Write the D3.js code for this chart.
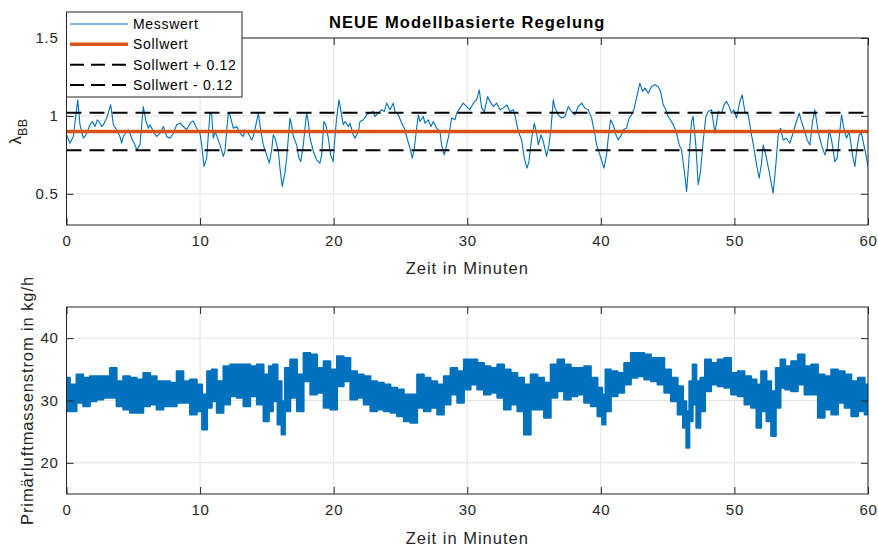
<!DOCTYPE html>
<html>
<head>
<meta charset="utf-8">
<script src="https://cdn.jsdelivr.net/npm/d3@7"></script>
<style>
  body { margin: 0; background: #fff; }
  svg { display: block; }
  text { font-family: "Liberation Sans", Arial, Helvetica, sans-serif; fill: #262626; }
</style>
</head>
<body>
<svg id="chart" width="878" height="548"></svg>
<script>
// ---- data ----
const timeTicks = [0, 10, 20, 30, 40, 50, 60];
const lambdaTicks = [0.5, 1, 1.5];
const flowTicks = [20, 30, 40];

const setpoint = 0.9;
const tolerance = 0.12;

// measured air ratio (lambda BB) over time in minutes
const lambdaTime = [
  0.00,0.26,0.51,0.84,1.01,1.26,1.38,1.51,1.76,1.93,2.13,2.31,2.51,2.63,2.76,3.01,3.31,3.51,3.75,4.00,
  4.13,4.25,4.50,4.63,4.75,4.88,5.13,5.25,5.50,5.75,5.95,6.13,6.25,6.50,6.75,7.00,7.25,7.50,7.75,8.00,
  8.25,8.50,8.75,9.00,9.24,9.49,9.74,9.99,10.12,10.29,10.49,10.74,10.87,10.99,11.12,11.36,11.49,11.74,11.86,12.11,
  12.24,12.36,12.49,12.74,12.99,13.24,13.36,13.61,13.86,13.98,14.23,14.36,14.48,14.73,14.98,15.18,15.36,15.48,15.61,15.86,
  15.98,16.15,16.35,16.48,16.73,16.85,16.98,17.23,17.40,17.53,17.73,17.85,17.98,18.10,18.23,18.48,18.72,18.97,19.10,19.27,
  19.42,19.60,19.77,19.97,20.05,20.22,20.40,20.55,20.72,20.85,21.10,21.22,21.47,21.60,21.85,21.97,22.22,22.47,22.72,22.97,
  23.09,23.34,23.59,23.79,23.97,24.22,24.46,24.59,24.84,25.04,25.29,25.46,25.71,25.89,26.04,26.21,26.34,26.46,26.71,26.84,
  27.08,27.28,27.46,27.71,27.96,28.08,28.28,28.46,28.63,28.83,29.08,29.21,29.45,29.70,29.95,30.20,30.45,30.70,30.90,31.08,
  31.28,31.53,31.70,31.95,32.20,32.45,32.70,32.95,33.20,33.45,33.62,33.82,34.07,34.27,34.47,34.62,34.82,35.02,35.19,35.32,
  35.52,35.69,35.94,36.12,36.27,36.44,36.57,36.82,37.06,37.31,37.56,37.81,38.06,38.31,38.56,38.81,39.06,39.31,39.56,39.68,
  39.93,40.23,40.43,40.55,40.73,40.93,41.13,41.30,41.55,41.68,41.92,42.12,42.30,42.47,42.67,42.92,43.12,43.30,43.55,43.80,
  44.05,44.29,44.47,44.67,44.87,45.04,45.29,45.54,45.67,45.87,46.04,46.22,46.42,46.57,46.79,46.91,47.11,47.29,47.46,47.66,
  47.86,48.04,48.29,48.54,48.79,49.04,49.23,49.41,49.61,49.78,49.96,50.16,50.41,50.58,50.78,51.03,51.28,51.46,51.66,51.85,
  52.03,52.15,52.35,52.60,52.78,52.90,53.10,53.28,53.45,53.65,53.90,54.15,54.35,54.60,54.85,55.02,55.27,55.45,55.65,55.85,
  56.02,56.27,56.52,56.77,56.94,57.09,57.27,57.52,57.69,57.89,58.02,58.19,58.39,58.59,58.84,59.02,59.14,59.34,59.51,59.69,
  59.89,60.00
];
const lambdaValues = [
  0.879,0.825,0.868,1.103,0.943,0.857,0.868,0.889,0.943,0.964,0.932,0.975,0.953,0.932,0.943,0.986,1.071,0.943,0.911,0.868,
  0.825,0.868,0.900,0.911,0.889,0.857,0.814,0.782,0.814,1.060,0.964,0.921,0.943,0.900,0.868,0.889,0.932,0.868,0.857,0.889,
  0.943,0.953,0.932,0.911,0.953,0.968,0.921,0.889,0.814,0.675,0.729,1.018,1.007,0.857,0.900,0.846,0.814,0.740,0.772,1.018,
  1.007,0.964,0.921,0.932,0.889,0.868,0.911,0.889,0.846,0.868,0.964,1.018,0.943,0.814,0.750,0.697,0.782,0.879,0.857,0.772,
  0.665,0.547,0.633,0.729,0.986,0.943,0.868,0.814,0.729,0.707,0.814,0.921,1.018,0.964,0.857,0.772,0.718,0.697,0.750,0.964,
  0.943,0.857,0.750,0.707,0.814,0.986,1.103,1.028,0.943,0.964,0.932,0.953,0.879,0.857,0.900,0.964,0.975,1.007,1.018,1.028,
  0.996,1.018,1.039,1.028,1.082,1.039,1.082,1.028,1.007,0.964,0.921,0.868,0.793,0.729,0.793,0.921,1.007,0.964,0.996,0.953,
  0.975,0.932,0.964,0.921,0.900,0.814,0.750,0.814,0.879,0.986,0.975,1.018,1.050,1.082,1.060,1.039,1.082,1.103,1.167,1.050,
  1.028,1.125,1.093,1.060,1.082,1.039,1.050,1.071,1.028,1.039,0.986,0.900,0.846,0.729,0.665,0.707,0.857,0.953,0.889,0.814,
  0.879,0.836,0.740,0.814,0.921,1.103,1.050,1.007,0.986,0.996,1.060,1.028,1.007,1.060,1.082,1.050,1.039,0.986,0.879,0.814,
  0.750,0.665,0.750,0.857,0.975,0.943,0.879,0.846,0.879,0.911,0.921,0.986,1.007,1.039,1.114,1.210,1.157,1.178,1.146,1.189,
  1.200,1.189,1.157,1.071,1.039,0.996,0.964,0.921,0.889,0.814,0.782,0.665,0.515,0.686,0.964,0.996,0.814,0.558,0.643,0.836,
  0.996,1.028,1.039,0.889,1.028,1.018,1.071,1.093,1.060,1.018,1.039,0.986,1.093,1.135,1.028,1.007,0.879,0.793,0.686,0.600,
  0.697,0.814,0.750,0.643,0.558,0.504,0.686,0.879,0.921,0.846,0.857,0.825,0.879,0.953,1.018,0.964,0.900,0.846,0.814,0.964,
  1.039,0.900,0.814,0.750,0.793,0.911,0.846,0.707,0.729,0.900,1.007,0.921,0.857,0.900,0.750,0.675,0.772,0.879,0.889,0.814,
  0.729,0.675
];

// primary air mass flow in kg/h: upper and lower extent of the noisy signal
const flowTime = [
  0,0.5,1,1.5,2,2.5,3,3.5,4,4.5,5,5.5,6,6.5,7,7.5,8,8.5,9,9.5,
  10,10.3,10.75,11,11.5,12,12.5,13,13.5,14,14.5,15,15.3,15.6,16,16.2,16.5,17,17.5,18,
  18.5,19,19.5,20,20.5,21,21.5,22,22.5,23,23.5,24,24.5,25,25.5,26,26.5,27,27.5,28,
  28.5,29,29.5,30,30.5,31,31.5,32,32.5,33,33.5,34,34.5,35,35.5,36,36.5,37,37.5,38,
  38.5,39,39.5,40,40.2,40.5,41,41.5,42,42.5,43,43.5,44,44.5,45,45.5,46,46.3,46.5,46.75,
  47,47.3,47.6,48,48.5,49,49.5,50,50.5,51,51.5,51.8,52.2,52.6,52.9,53.3,53.6,54,54.5,55,
  55.5,56,56.5,57,57.5,58,58.5,59,59.5,60
];
const flowHigh = [
  33.63,32.56,34.16,33.63,33.89,33.89,33.89,35.23,33.09,33.89,33.63,33.36,34.43,33.89,33.09,33.09,32.83,34.69,33.09,33.36,
  32.56,30.96,34.69,34.96,33.09,35.49,35.76,35.76,35.76,35.49,35.76,34.16,35.49,35.76,33.09,29.89,35.23,36.56,34.16,37.63,
  37.36,35.23,36.29,34.96,37.09,36.83,34.69,34.16,33.89,33.09,32.83,32.56,32.03,31.76,30.96,30.96,34.16,33.63,33.09,32.56,
  33.89,35.23,34.69,36.56,36.56,36.03,35.49,35.23,35.76,34.96,34.43,33.63,32.56,34.16,33.63,32.83,35.76,36.56,35.76,35.23,
  35.23,35.49,33.63,32.03,30.96,34.96,34.69,34.43,36.03,37.63,37.63,37.36,36.83,36.83,34.96,33.63,32.29,29.89,28.29,33.09,
  35.76,33.09,33.63,36.56,36.03,36.56,36.83,34.43,34.69,33.89,33.36,32.56,34.69,33.09,31.49,35.23,36.56,35.49,36.29,37.36,
  35.49,35.76,34.16,33.89,34.96,34.69,34.16,33.09,33.63,32.56
];
const flowLow = [
  28.29,28.29,29.63,29.09,29.89,30.16,30.43,30.43,29.09,28.56,28.03,28.03,29.09,29.36,28.56,29.09,29.09,29.63,29.63,27.76,
  28.29,25.36,28.83,29.89,28.03,29.36,30.69,30.43,29.09,30.69,29.36,26.69,28.29,29.89,26.16,24.56,28.29,30.43,28.29,33.09,
  30.96,31.23,28.83,28.56,32.29,33.09,30.16,30.43,29.36,28.29,28.56,28.29,28.03,27.49,26.69,26.43,28.83,28.29,28.83,27.76,
  29.36,30.96,29.63,31.76,32.56,31.76,30.96,31.23,30.43,28.56,29.36,28.29,24.56,28.56,28.56,27.23,30.43,31.49,30.16,30.69,
  30.96,29.63,29.09,27.49,26.16,28.29,30.69,31.23,32.56,33.63,33.89,33.36,33.09,32.56,31.23,29.89,27.76,25.63,22.43,26.69,
  29.36,25.63,28.29,31.49,32.56,32.29,32.03,30.96,30.69,29.36,28.83,25.63,28.29,26.69,24.29,28.83,32.03,31.76,31.49,32.56,
  30.96,30.96,27.23,28.56,27.76,29.63,28.83,27.49,28.29,27.76
];

// ---- layout ----
const svg = d3.select("#chart");
const left = 66.5, right = 868;
const topPanel = { top: 38, bottom: 225 };
const botPanel = { top: 307, bottom: 494 };
const blue = "#0072BD", orange = "#D95319", axisColor = "#262626", gridColor = "#e2e2e2";

const x = d3.scaleLinear().domain([0, 60]).range([left, right]);
const yLambda = d3.scaleLinear().domain([0.3, 1.5]).range([topPanel.bottom, topPanel.top]);
const yFlow = d3.scaleLinear().domain([15, 45]).range([botPanel.bottom, botPanel.top]);
const plainNumber = d => String(d);

function panel(id, y, yTicks, panelBox) {
  const g = svg.append("g");
  // grid
  g.append("g").selectAll("line").data(timeTicks).join("line")
    .attr("x1", d => x(d)).attr("x2", d => x(d))
    .attr("y1", panelBox.top).attr("y2", panelBox.bottom)
    .attr("stroke", gridColor).attr("stroke-width", 1);
  g.append("g").selectAll("line").data(yTicks).join("line")
    .attr("x1", left).attr("x2", right)
    .attr("y1", d => y(d)).attr("y2", d => y(d))
    .attr("stroke", gridColor).attr("stroke-width", 1);
  // clip for data
  svg.append("clipPath").attr("id", id)
    .append("rect").attr("x", left).attr("y", panelBox.top)
    .attr("width", right - left).attr("height", panelBox.bottom - panelBox.top);
  const data = svg.append("g").attr("clip-path", `url(#${id})`);
  return { g, data };
}

function frame(y, yTicks, panelBox) {
  const g = svg.append("g");
  const styleAxis = sel => {
    sel.select(".domain").remove();
    sel.selectAll(".tick line").attr("stroke", axisColor).attr("stroke-width", 1);
    sel.selectAll(".tick text").attr("fill", axisColor)
      .style("font-size", "15px").style("letter-spacing", "0.7px");
  };
  g.append("g").attr("transform", `translate(0,${panelBox.bottom})`)
    .call(d3.axisBottom(x).tickValues(timeTicks).tickSize(-7).tickPadding(10).tickFormat(plainNumber))
    .call(styleAxis);
  g.append("g").attr("transform", `translate(0,${panelBox.top})`)
    .call(d3.axisTop(x).tickValues(timeTicks).tickSize(-7).tickFormat(""))
    .call(styleAxis);
  g.append("g").attr("transform", `translate(${left},0)`)
    .call(d3.axisLeft(y).tickValues(yTicks).tickSize(-7).tickPadding(8).tickFormat(plainNumber))
    .call(styleAxis);
  g.append("g").attr("transform", `translate(${right},0)`)
    .call(d3.axisRight(y).tickValues(yTicks).tickSize(-7).tickFormat(""))
    .call(styleAxis);
  g.append("rect").attr("x", left).attr("y", panelBox.top)
    .attr("width", right - left).attr("height", panelBox.bottom - panelBox.top)
    .attr("fill", "none").attr("stroke", axisColor).attr("stroke-width", 1);
  return g;
}

// ---- top panel: lambda ----
const p1 = panel("clipTop", yLambda, lambdaTicks, topPanel);
const lambdaPts = lambdaTime.map((t, i) => [t, lambdaValues[i]]);
const lineL = d3.line().x(d => x(d[0])).y(d => yLambda(d[1]));
p1.data.append("path").datum(lambdaPts).attr("d", lineL)
  .attr("fill", "none").attr("stroke", blue).attr("stroke-width", 1.1).attr("stroke-linejoin", "round");
const refLines = [
  { v: setpoint, color: orange, width: 3.5, dash: null },
  { v: setpoint + tolerance, color: "#000", width: 2, dash: "15,8" },
  { v: setpoint - tolerance, color: "#000", width: 2, dash: "15,8" }
];
p1.data.selectAll("line.ref").data(refLines).join("line").attr("class", "ref")
  .attr("x1", x(0)).attr("x2", x(60))
  .attr("y1", d => yLambda(d.v)).attr("y2", d => yLambda(d.v))
  .attr("stroke", d => d.color).attr("stroke-width", d => d.width)
  .attr("stroke-dasharray", d => d.dash);
frame(yLambda, lambdaTicks, topPanel);

// ---- bottom panel: primary air flow ----
const p2 = panel("clipBot", yFlow, flowTicks, botPanel);
const flowPts = flowTime.map((t, i) => ({ t, hi: flowHigh[i], lo: flowLow[i] }));
const areaF = d3.area().curve(d3.curveStep)
  .x(d => x(d.t)).y0(d => yFlow(d.lo)).y1(d => yFlow(d.hi));
p2.data.append("path").datum(flowPts).attr("d", areaF)
  .attr("fill", blue).attr("stroke", blue).attr("stroke-width", 2).attr("stroke-linejoin", "round");
frame(yFlow, flowTicks, botPanel);

// ---- labels ----
const midX = (left + right) / 2;
svg.append("text").attr("x", midX).attr("y", 28).attr("text-anchor", "middle")
  .style("font-size", "16.5px").style("font-weight", "bold").style("letter-spacing", "1.1px")
  .style("fill", "#000")
  .text("NEUE Modellbasierte Regelung");
[274, 544].forEach(yy => {
  svg.append("text").attr("x", midX).attr("y", yy).attr("text-anchor", "middle")
    .style("font-size", "16.5px").style("letter-spacing", "1px").text("Zeit in Minuten");
});
const yl1 = svg.append("text")
  .attr("transform", `translate(21,${(topPanel.top + topPanel.bottom) / 2}) rotate(-90)`)
  .attr("text-anchor", "middle").style("font-size", "17px");
yl1.append("tspan").text("λ");
yl1.append("tspan").attr("dy", 6).style("font-size", "12.5px").style("letter-spacing", "0.5px").text("BB");
svg.append("text")
  .attr("transform", `translate(33,${(botPanel.top + botPanel.bottom) / 2}) rotate(-90)`)
  .attr("text-anchor", "middle").style("font-size", "16.5px").style("letter-spacing", "0.9px")
  .text("Primärluftmassenstrom in kg/h");

// ---- legend ----
const legendItems = [
  { label: "Messwert", color: blue, width: 1, dash: null },
  { label: "Sollwert", color: orange, width: 3.5, dash: null },
  { label: "Sollwert + 0.12", color: "#000", width: 2, dash: "14,7" },
  { label: "Sollwert - 0.12", color: "#000", width: 2, dash: "14,7" }
];
const lg = svg.append("g");
lg.append("rect").attr("x", 66.5).attr("y", 12).attr("width", 175.5).attr("height", 85)
  .attr("fill", "#fff").attr("stroke", axisColor).attr("stroke-width", 1);
const rowY = d3.scalePoint().domain(legendItems.map(d => d.label)).range([24, 85]);
legendItems.forEach(d => {
  const yy = rowY(d.label);
  lg.append("line").attr("x1", 70).attr("x2", 128).attr("y1", yy).attr("y2", yy)
    .attr("stroke", d.color).attr("stroke-width", d.width).attr("stroke-dasharray", d.dash);
  lg.append("text").attr("x", 133).attr("y", yy + 5).style("font-size", "14px")
    .style("letter-spacing", "0.7px").style("fill", "#000").text(d.label);
});
</script>
</body>
</html>
